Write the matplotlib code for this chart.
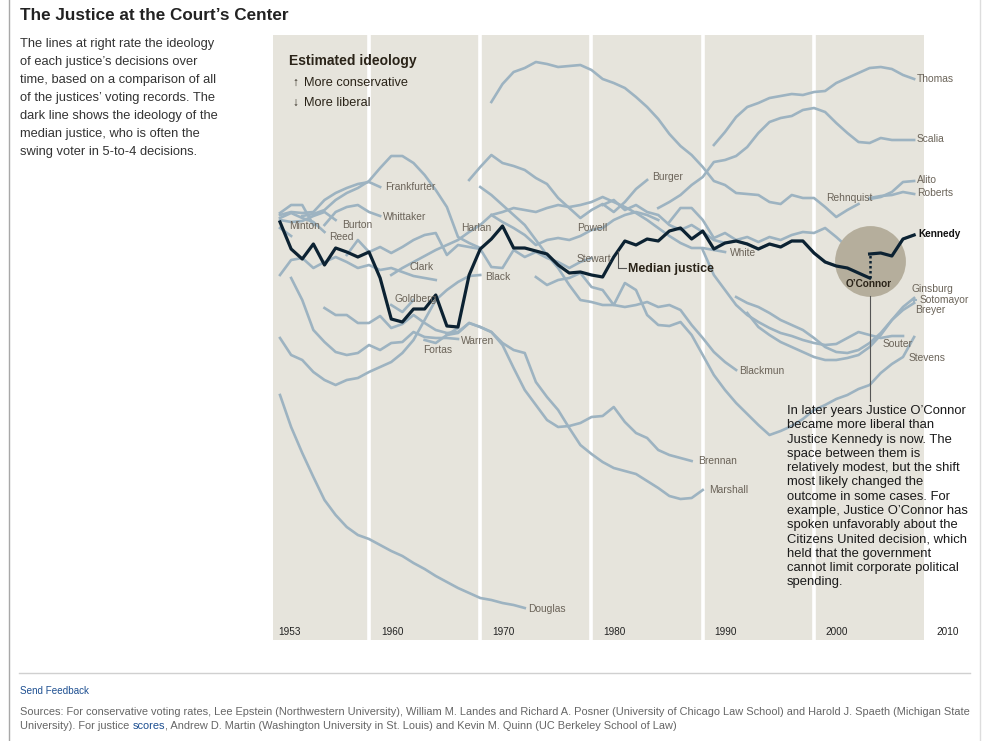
import matplotlib
matplotlib.use("Agg")
import matplotlib.pyplot as plt
from matplotlib.lines import Line2D

plt.rcParams['font.family'] = ['Liberation Sans', 'DejaVu Sans']

W, H = 997, 741

# ideology score per term (higher = more conservative)
median_from = 1952
median = [0.56, 0.02, -0.18, 0.12, -0.30, 0.04, -0.04, -0.14, -0.04, -0.56,
          -1.38, -1.44, -1.18, -1.18, -0.90, -1.52, -1.54, -0.50, 0.02, 0.22,
          0.48, 0.04, 0.04, -0.02, -0.08, -0.30, -0.46, -0.44, -0.50, -0.54,
          -0.14, 0.18, 0.10, 0.22, 0.18, 0.38, 0.44, 0.22, 0.38, 0.02,
          0.14, 0.18, 0.12, 0.02, 0.12, 0.06, 0.18, 0.18, -0.06, -0.24,
          -0.32, -0.36, -0.46, -0.56]

jackson_from, jackson = 1952, [0.44, 0.28]
minton_from, minton = 1952, [0.74, 0.90, 0.90, 0.50]
reed_from, reed = 1952, [0.64, 0.74, 0.64, 0.56, 0.36]
burton_from, burton = 1952, [0.60, 0.56, 0.58, 0.68, 0.76, 0.60]
frankfurter_from, frankfurter = 1952, [0.70, 0.76, 0.74, 0.76, 1.00, 1.14, 1.24, 1.32, 1.36, 1.26]
whittaker_from, whittaker = 1956, [0.50, 0.76, 0.86, 0.90, 0.76, 0.68]
harlan_from, harlan = 1954, [0.68, 0.72, 0.80, 1.00, 1.14, 1.24, 1.38, 1.64, 1.88, 1.88,
                             1.74, 1.50, 1.20, 0.86, 0.26, 0.14, 0.04]
clark_from, clark = 1952, [-0.50, -0.20, -0.16, -0.36, -0.24, -0.14, -0.24, -0.36, -0.30, -0.40,
                           -0.36, -0.44, -0.52, -0.56, -0.60]
black_from, black = 1952, [-1.76, -2.10, -2.20, -2.44, -2.60, -2.70, -2.60, -2.56, -2.44, -2.34,
                           -2.24, -2.06, -1.80, -1.40, -1.00, -0.80, -0.64, -0.52, -0.50]
warren_from, warren = 1953, [-0.56, -1.00, -1.60, -1.84, -2.04, -2.10, -2.06, -1.90, -2.00, -1.86,
                             -1.84, -1.64, -1.74, -1.76, -1.76, -1.78]
douglas_from, douglas = 1952, [-2.90, -3.54, -4.06, -4.54, -5.00, -5.30, -5.54, -5.70, -5.78, -5.90,
                               -6.02, -6.12, -6.26, -6.38, -6.52, -6.64, -6.76, -6.86, -6.96, -7.00,
                               -7.06, -7.10, -7.16]
brennan_from, brennan = 1956, [-1.16, -1.30, -1.30, -1.46, -1.46, -1.32, -1.56, -1.48, -1.30, -1.46,
                               -1.60, -1.66, -1.64, -1.46, -1.54, -1.64, -1.90, -2.36, -2.80, -3.10,
                               -3.40, -3.54, -3.52, -3.46, -3.34, -3.32, -3.14, -3.44, -3.66, -3.76,
                               -4.00, -4.10, -4.16, -4.22]
marshall_from, marshall = 1967, [-1.70, -1.66, -1.46, -1.54, -1.64, -1.86, -2.00, -2.06, -2.64, -2.94,
                                 -3.20, -3.56, -3.90, -4.08, -4.24, -4.36, -4.42, -4.48, -4.62, -4.76,
                                 -4.92, -4.98, -4.96, -4.80]
goldberg_from, goldberg = 1962, [-1.10, -1.24, -1.00]
fortas_from, fortas = 1965, [-1.80, -1.86, -1.70, -1.56]
stewart_from, stewart = 1958, [-0.10, 0.20, -0.04, 0.06, -0.06, 0.06, 0.20, 0.30, 0.34, -0.10,
                               0.10, 0.06, 0.02, -0.34, -0.36, 0.00, -0.14, -0.04, -0.16, -0.24,
                               -0.36, -0.24, -0.16]
white_from, white = 1962, [-0.50, -0.36, -0.24, -0.12, 0.00, 0.10, 0.20, 0.36, 0.50, 0.70,
                           0.76, 0.84, 0.80, 0.76, 0.84, 0.90, 0.86, 0.90, 0.96, 1.06,
                           0.96, 0.86, 0.74, 0.60, 0.44, 0.28, 0.14, 0.04, 0.04, 0.00, -0.04]
burger_from, burger = 1969, [1.40, 1.66, 1.90, 1.74, 1.68, 1.60, 1.44, 1.32, 1.04, 0.84,
                             0.64, 0.80, 0.92, 0.76, 0.96, 1.22, 1.40]
blackmun_from, blackmun = 1970, [1.26, 1.10, 0.90, 0.70, 0.50, 0.20, -0.10, -0.36, -0.70, -1.00,
                                 -1.04, -1.10, -1.10, -1.14, -1.10, -1.04, -1.14, -1.10, -1.20, -1.50,
                                 -1.76, -2.04, -2.24, -2.40]
powell_from, powell = 1971, [0.70, 0.56, 0.44, 0.30, 0.10, 0.20, 0.24, 0.20, 0.28, 0.40,
                             0.44, 0.60, 0.70, 0.76, 0.70, 0.60]
rehnquist_from, rehnquist = 1971, [2.96, 3.32, 3.56, 3.64, 3.76, 3.72, 3.66, 3.68, 3.70, 3.60,
                                   3.42, 3.34, 3.24, 3.06, 2.86, 2.62, 2.32, 2.08, 1.90, 1.66,
                                   1.38, 1.30, 1.14, 1.12, 1.10, 0.96, 0.92, 1.10, 1.04, 1.04,
                                   0.86, 0.66, 0.80, 0.92]
stevens_from, stevens = 1975, [-0.54, -0.70, -0.60, -0.56, -0.46, -0.74, -0.80, -1.10, -0.66, -0.80,
                               -1.30, -1.50, -1.52, -1.44, -1.70, -2.10, -2.50, -2.80, -3.06, -3.28,
                               -3.50, -3.70, -3.62, -3.52, -3.38, -3.20, -3.10, -2.98, -2.90, -2.78,
                               -2.70, -2.46, -2.28, -2.14, -1.74]
oconnor_from, oconnor = 1981, [0.90, 1.00, 0.80, 0.90, 0.76, 0.70, 0.50, 0.40, 0.50, 0.36,
                               0.20, 0.14, 0.18, 0.12, 0.02, 0.12, 0.06, 0.18, 0.18, -0.06,
                               -0.24, -0.32, -0.36, -0.46, -0.56]
scalia_from, scalia = 1986, [0.84, 0.96, 1.10, 1.30, 1.46, 1.76, 1.80, 1.88, 2.06, 2.34,
                             2.56, 2.64, 2.68, 2.80, 2.84, 2.76, 2.54, 2.34, 2.16, 2.14,
                             2.24, 2.20, 2.20, 2.20]
kennedy_from, kennedy = 1987, [0.56, 0.84, 0.84, 0.60, 0.24, 0.34, 0.20, 0.26, 0.16, 0.26,
                               0.20, 0.30, 0.36, 0.34, 0.44, 0.26, 0.06, -0.04, -0.08, -0.06,
                               -0.12, 0.22, 0.30]
souter_from, souter = 1990, [0.00, -0.50, -0.80, -1.10, -1.30, -1.44, -1.56, -1.66, -1.72, -1.80,
                             -1.86, -1.90, -1.88, -1.76, -1.64, -1.70, -1.76, -1.72, -1.72]
thomas_from, thomas = 1991, [2.10, 2.36, 2.66, 2.86, 2.94, 3.04, 3.08, 3.12, 3.10, 3.16,
                             3.18, 3.34, 3.44, 3.54, 3.64, 3.66, 3.62, 3.50, 3.42]
ginsburg_from, ginsburg = 1993, [-0.94, -1.06, -1.14, -1.26, -1.40, -1.50, -1.60, -1.76, -1.94, -2.04,
                                 -2.06, -2.00, -1.86, -1.66, -1.40, -1.14, -0.96]
breyer_from, breyer = 1994, [-1.26, -1.54, -1.70, -1.84, -1.94, -2.04, -2.14, -2.20, -2.20, -2.16,
                             -2.10, -1.94, -1.70, -1.40, -1.20, -1.06]
roberts_from, roberts = 2005, [1.04, 1.08, 1.10, 1.16, 1.12]
alito_from, alito = 2005, [1.02, 1.06, 1.16, 1.36, 1.38]
sotomayor_from, sotomayor = 2009, [-1.00]

kennedy_median_from = 2005   # Kennedy becomes the median justice
decades = [1960, 1970, 1980, 1990, 2000]
year_labels = ["1953", "1960", "1970", "1980", "1990", "2000", "2010"]

gray_series = [(jackson_from, jackson), (minton_from, minton), (reed_from, reed),
               (burton_from, burton), (frankfurter_from, frankfurter),
               (whittaker_from, whittaker), (harlan_from, harlan), (clark_from, clark),
               (black_from, black), (warren_from, warren), (douglas_from, douglas),
               (brennan_from, brennan), (marshall_from, marshall), (goldberg_from, goldberg),
               (fortas_from, fortas), (stewart_from, stewart), (white_from, white),
               (burger_from, burger), (blackmun_from, blackmun), (powell_from, powell),
               (rehnquist_from, rehnquist), (stevens_from, stevens), (oconnor_from, oconnor),
               (scalia_from, scalia), (kennedy_from, kennedy), (souter_from, souter),
               (thomas_from, thomas), (ginsburg_from, ginsburg), (breyer_from, breyer),
               (roberts_from, roberts), (alito_from, alito)]

# label placement (pixels)
name_labels = [("Frankfurter", 385, 187), ("Whittaker", 383, 217), ("Minton", 289, 226),
               ("Burton", 342, 225), ("Reed", 329, 237), ("Clark", 409, 267),
               ("Goldberg", 394, 299), ("Fortas", 423, 350), ("Warren", 461, 341),
               ("Harlan", 461, 228), ("Black", 485, 277), ("Douglas", 528, 609),
               ("Burger", 652, 177), ("Powell", 577, 228), ("Stewart", 577, 259),
               ("White", 730, 253), ("Blackmun", 739, 371), ("Brennan", 698, 461),
               ("Marshall", 709, 490), ("Thomas", 917, 79), ("Scalia", 917, 139),
               ("Rehnquist", 826, 198), ("Alito", 917, 180), ("Roberts", 917, 193),
               ("Ginsburg", 911, 289), ("Sotomayor", 920, 300), ("Breyer", 915, 310),
               ("Souter", 883, 344), ("Stevens", 909, 358)]
year_label_x = [278, 381, 492, 603, 714, 825, 936]

BEIGE = "#e6e4dc"
GRAY = "#9db3c1"
DARK = "#0c2232"
LABEL = "#6b6459"


def px(x, y):
    return x / W, 1 - y / H


def yr(xpix):
    return 1960 + (xpix - 369) / 11.125


fig = plt.figure(figsize=(W / 100, H / 100), dpi=100)
fig.patch.set_facecolor("white")

ax = fig.add_axes([273 / W, 1 - 640 / H, (924 - 273) / W, (640 - 35) / H])
ax.set_facecolor(BEIGE)
ax.set_xlim(yr(273), yr(924))
ax.set_ylim(-7.8, 4.3)
ax.set_xticks([])
ax.set_yticks([])
for s in ax.spines.values():
    s.set_visible(False)

for d in decades:
    ax.axvline(d, color="white", lw=2.6, zorder=1)

for first, vals in gray_series:
    ax.plot(range(first, first + len(vals)), vals, color=GRAY, lw=1.9, zorder=2)
ax.plot([sotomayor_from], sotomayor, marker="+", ms=4, mew=1.5, color=GRAY, zorder=2)

# highlight circle around the O'Connor -> Kennedy switch
last_oc = oconnor_from + len(oconnor) - 1
k_idx = kennedy_median_from - kennedy_from
ax.scatter([last_oc], [(oconnor[-1] + kennedy[k_idx]) / 2 + 0.1], s=2600,
           color="#b5ae9c", linewidths=0, zorder=3)

ax.plot(range(median_from, median_from + len(median)), median, color=DARK, lw=2.3,
        zorder=4)
ax.plot(range(kennedy_median_from, kennedy_from + len(kennedy)), kennedy[k_idx:],
        color=DARK, lw=2.3, zorder=4)
ax.plot([last_oc, last_oc], [oconnor[-1], kennedy[k_idx]], color=DARK, lw=1.8,
        ls=(0, (1, 1)), zorder=4)

# page furniture
fig.add_artist(Line2D([9 / W, 9 / W], [0, 1], color="#a8a8a8", lw=1))
fig.add_artist(Line2D([980 / W, 980 / W], [0, 1], color="#dddddd", lw=1))
fig.add_artist(Line2D([19 / W, 970 / W], [1 - 673 / H] * 2, color="#d0d0d0", lw=1))

fig.text(*px(20, 15), "The Justice at the Court\u2019s Center", fontsize=12.3,
         fontweight="bold", color="#222222", va="center")
intro = ["The lines at right rate the ideology",
         "of each justice\u2019s decisions over",
         "time, based on a comparison of all",
         "of the justices\u2019 voting records. The",
         "dark line shows the ideology of the",
         "median justice, who is often the",
         "swing voter in 5-to-4 decisions."]
for i, line in enumerate(intro):
    fig.text(*px(20, 44 + 18 * i), line, fontsize=9.3, color="#333333", va="center")

fig.text(*px(289, 61), "Estimated ideology", fontsize=10, fontweight="bold",
         color="#2a2318", va="center")
fig.text(*px(292, 83), "\u2191", fontsize=8.5, fontweight="bold", color="#2a2318",
         va="center")
fig.text(*px(304, 83), "More conservative", fontsize=9.2, color="#2a2318", va="center")
fig.text(*px(292, 103), "\u2193", fontsize=8.5, fontweight="bold", color="#2a2318",
         va="center")
fig.text(*px(304, 103), "More liberal", fontsize=9.2, color="#2a2318", va="center")

for name, x, y in name_labels:
    fig.text(*px(x, y), name, fontsize=7.4, color=LABEL, va="center")
fig.text(*px(918, 234), "Kennedy", fontsize=7.2, fontweight="bold", color="#111111",
         va="center")
fig.text(*px(846, 284), "O\u2019Connor", fontsize=7.2, fontweight="bold",
         color="#2a2318", va="center")
fig.text(*px(628, 269), "Median justice", fontsize=8.9, fontweight="bold",
         color="#2a2318", va="center")
fig.add_artist(Line2D([618 / W, 618 / W, 626 / W],
                      [1 - 251 / H, 1 - 268 / H, 1 - 268 / H], color="#555555", lw=0.8))

for lab, x in zip(year_labels, year_label_x):
    fig.text(*px(x, 632), lab, fontsize=7.2, color="#222222", va="center")

# annotation
fig.add_artist(Line2D([870 / W, 870 / W], [1 - 296 / H, 1 - 401 / H],
                      color="#555555", lw=0.8))
note = ["In later years Justice O\u2019Connor",
        "became more liberal than",
        "Justice Kennedy is now. The",
        "space between them is",
        "relatively modest, but the shift",
        "most likely changed the",
        "outcome in some cases. For",
        "example, Justice O\u2019Connor has",
        "spoken unfavorably about the",
        "Citizens United decision, which",
        "held that the government",
        "cannot limit corporate political",
        "spending."]
for i, line in enumerate(note):
    fig.text(*px(787, 411 + 14.25 * i), line, fontsize=9.4, color="#1a1a1a", va="center")

# footer
fig.text(*px(20, 691), "Send Feedback", fontsize=7.1, color="#1d4f91", va="center")
src1 = ("Sources: For conservative voting rates, Lee Epstein (Northwestern University), "
        "William M. Landes and Richard A. Posner (University of Chicago Law School) and "
        "Harold J. Spaeth (Michigan State")
fig.text(*px(20, 712), src1, fontsize=7.9, color="#666666", va="center")
t = fig.text(*px(20, 726), "University). For justice ", fontsize=7.9, color="#666666",
             va="center")
fig.canvas.draw()
x1 = t.get_window_extent().x1
t2 = fig.text(x1 / W, 1 - 726 / H, "scores", fontsize=7.9, color="#1d4f91", va="center")
fig.canvas.draw()
x2 = t2.get_window_extent().x1
fig.text(x2 / W, 1 - 726 / H, ", Andrew D. Martin (Washington University in St. Louis) "
         "and Kevin M. Quinn (UC Berkeley School of Law)", fontsize=7.9, color="#666666",
         va="center")

fig.savefig("out.png", dpi=100)
